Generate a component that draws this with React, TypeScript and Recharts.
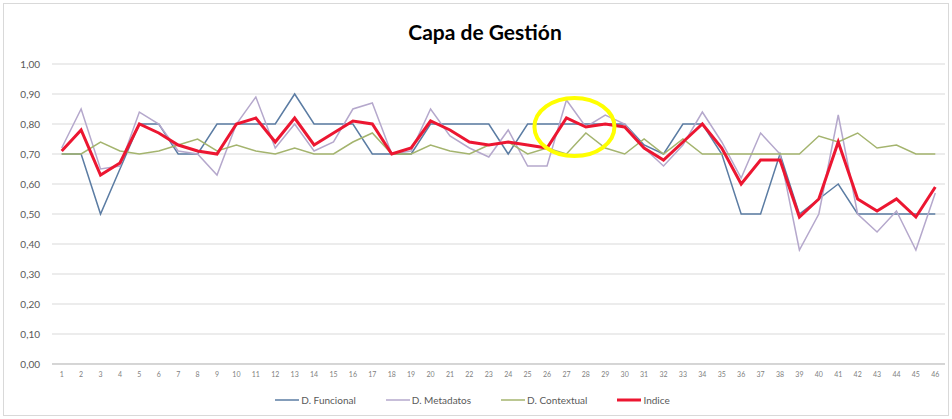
import { CartesianGrid, Legend, Line, LineChart, ReferenceDot, XAxis, YAxis } from "recharts";

const categories = [
  "1", "2", "3", "4", "5", "6", "7", "8", "9", "10", "11", "12", "13", "14", "15", "16",
  "17", "18", "19", "20", "21", "22", "23", "24", "25", "26", "27", "28", "29", "30", "31",
  "32", "33", "34", "35", "36", "37", "38", "39", "40", "41", "42", "43", "44", "45", "46",
];

const seriesNames = ["D. Funcional", "D. Metadatos", "D. Contextual", "Indice"];

const funcional = [
  0.7, 0.7, 0.5, 0.65, 0.8, 0.8, 0.7, 0.7, 0.8, 0.8, 0.8, 0.8, 0.9, 0.8, 0.8, 0.8,
  0.7, 0.7, 0.7, 0.8, 0.8, 0.8, 0.8, 0.7, 0.8, 0.8, 0.8, 0.8, 0.8, 0.8, 0.73,
  0.7, 0.8, 0.8, 0.7, 0.5, 0.5, 0.7, 0.5, 0.55, 0.6, 0.5, 0.5, 0.5, 0.5, 0.5,
];

const metadatos = [
  0.72, 0.85, 0.65, 0.66, 0.84, 0.8, 0.71, 0.7, 0.63, 0.8, 0.89, 0.72, 0.8, 0.71, 0.74, 0.85,
  0.87, 0.7, 0.71, 0.85, 0.76, 0.72, 0.69, 0.78, 0.66, 0.66, 0.88, 0.79, 0.83, 0.8, 0.72,
  0.66, 0.73, 0.84, 0.74, 0.62, 0.77, 0.7, 0.38, 0.5, 0.83, 0.5, 0.44, 0.51, 0.38, 0.57,
];

const contextual = [
  0.7, 0.7, 0.74, 0.71, 0.7, 0.71, 0.73, 0.75, 0.71, 0.73, 0.71, 0.7, 0.72, 0.7, 0.7, 0.74,
  0.77, 0.7, 0.7, 0.73, 0.71, 0.7, 0.73, 0.74, 0.7, 0.72, 0.7, 0.77, 0.72, 0.7, 0.75,
  0.7, 0.75, 0.7, 0.7, 0.7, 0.7, 0.7, 0.7, 0.76, 0.74, 0.77, 0.72, 0.73, 0.7, 0.7,
];

const indice = [
  0.71, 0.78, 0.63, 0.67, 0.8, 0.77, 0.73, 0.71, 0.7, 0.8, 0.82, 0.74, 0.82, 0.73, 0.77, 0.81,
  0.8, 0.7, 0.72, 0.81, 0.78, 0.74, 0.73, 0.74, 0.73, 0.72, 0.82, 0.79, 0.8, 0.79, 0.72,
  0.68, 0.74, 0.8, 0.72, 0.6, 0.68, 0.68, 0.49, 0.55, 0.74, 0.55, 0.51, 0.55, 0.49, 0.59,
];

const yTicks = [0, 0.1, 0.2, 0.3, 0.4, 0.5, 0.6, 0.7, 0.8, 0.9, 1];

const data = categories.map((name, i) => ({
  name,
  funcional: funcional[i],
  metadatos: metadatos[i],
  contextual: contextual[i],
  indice: indice[i],
}));

const font = "Lato, 'Open Sans', sans-serif";

function LegendContent({ payload }: any) {
  // keep the series order, recharts sorts legend items by name otherwise
  const items = [...(payload || [])].sort(
    (a: any, b: any) => seriesNames.indexOf(a.value) - seriesNames.indexOf(b.value)
  );
  return (
    <div style={{ display: "flex", justifyContent: "center", gap: 30, fontFamily: font, fontSize: 10, color: "#595959" }}>
      {items.map((entry: any) => (
        <div key={entry.value} style={{ display: "flex", alignItems: "center" }}>
          <svg width={24} height={8} style={{ marginRight: 2 }}>
            <line x1={0} y1={4} x2={24} y2={4} stroke={entry.color} strokeWidth={entry.payload?.strokeWidth ?? 2} />
          </svg>
          <span>{entry.value}</span>
        </div>
      ))}
    </div>
  );
}

const circle = (props: any) => (
  <ellipse cx={props.cx + 8} cy={props.cy + 3} rx={40} ry={29} fill="none" stroke="#ffff00" strokeWidth={4} />
);

export default function App() {
  return (
    <div style={{ position: "absolute", left: 0, top: 0, width: 952, height: 419, background: "#fff" }}>
      <div
        style={{
          position: "absolute",
          left: 3,
          top: 3,
          width: 944,
          height: 411,
          border: "1px solid #d9d9d9",
        }}
      />
      <div
        style={{
          position: "absolute",
          top: 19,
          left: 0,
          width: 970,
          textAlign: "center",
          fontFamily: font,
          fontWeight: 700,
          fontSize: 21,
          color: "#000",
        }}
      >
        Capa de Gestión
      </div>
      <LineChart width={952} height={419} data={data} margin={{ top: 64, right: 7, bottom: 5, left: 0 }}>
        <CartesianGrid vertical={false} stroke="#d9d9d9" />
        <XAxis
          dataKey="name"
          interval={0}
          height={30}
          padding={{ left: 9.7, right: 9.7 }}
          tick={{ fontSize: 7, fill: "#7f7f7f", fontFamily: font }}
          tickLine={false}
          tickSize={0}
          tickMargin={8}
          axisLine={{ stroke: "#bfbfbf" }}
        />
        <YAxis
          domain={[0, 1]}
          ticks={yTicks}
          width={52}
          tickFormatter={(v: number) => v.toFixed(2).replace(".", ",")}
          tick={{ fontSize: 10, fill: "#595959", fontFamily: font }}
          tickLine={false}
          tickSize={0}
          tickMargin={12}
          axisLine={false}
        />
        <Legend verticalAlign="bottom" height={20} content={<LegendContent />} />
        <Line dataKey="funcional" name="D. Funcional" stroke="#5b7ca3" strokeWidth={1.5} dot={false} isAnimationActive={false} />
        <Line dataKey="metadatos" name="D. Metadatos" stroke="#b5a8cc" strokeWidth={1.5} dot={false} isAnimationActive={false} />
        <Line dataKey="contextual" name="D. Contextual" stroke="#a4b46e" strokeWidth={1.5} dot={false} isAnimationActive={false} />
        <Line dataKey="indice" name="Indice" stroke="#ec1631" strokeWidth={3} dot={false} isAnimationActive={false} />
        <ReferenceDot x="27" y={0.8} ifOverflow="visible" shape={circle} />
      </LineChart>
    </div>
  );
}
